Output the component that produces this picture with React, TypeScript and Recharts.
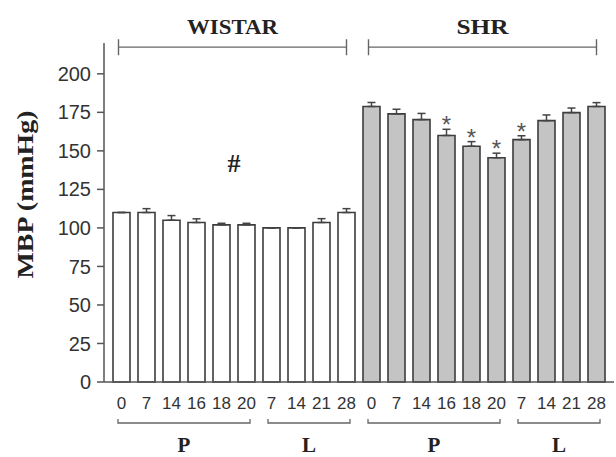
import React from "react";
import { ComposedChart, Bar, XAxis, YAxis, ErrorBar, Cell, LabelList, ReferenceLine } from "recharts";

// one category per bar, Wistar first then SHR
const categories = [
  "W-P0", "W-P7", "W-P14", "W-P16", "W-P18", "W-P20", "W-L7", "W-L14", "W-L21", "W-L28",
  "S-P0", "S-P7", "S-P14", "S-P16", "S-P18", "S-P20", "S-L7", "S-L14", "S-L21", "S-L28",
];
const dayLabels = [
  "0", "7", "14", "16", "18", "20", "7", "14", "21", "28",
  "0", "7", "14", "16", "18", "20", "7", "14", "21", "28",
];

const wistarMbp = [110, 110, 105, 103.5, 102, 102, 100, 100, 103.5, 110];
const wistarSem = [0, 2.5, 3, 2.4, 1, 1, 0, 0, 2.5, 2.5];
const shrMbp = [178.8, 174, 170.3, 160, 153, 145.5, 157.3, 169.6, 174.8, 178.8];
const shrSem = [2.6, 3, 4, 4, 3, 3, 2.5, 3.7, 3, 2.5];
const shrSignificant = [false, false, false, true, true, true, true, false, false, false];

const phaseLabels = ["P", "L", "P", "L"];
const phaseFirst = [0, 6, 10, 16];
const phaseLast = [5, 9, 15, 19];

const strainLabels = ["WISTAR", "SHR"];
const strainFirst = [0, 10];
const strainLast = [9, 19];
const strainTextWidth = [91, 52];

const yTicks = [0, 25, 50, 75, 100, 125, 150, 175, 200];

const data = categories.map((cat, i) => {
  const shr = i >= 10;
  const j = i % 10;
  return {
    cat,
    mbp: shr ? shrMbp[j] : wistarMbp[j],
    sem: shr ? shrSem[j] : wistarSem[j],
    sig: shr ? shrSignificant[j] : false,
    shr,
  };
});

const sans = "'Liberation Sans', Arial, sans-serif";
const serif = "'Liberation Serif', 'Times New Roman', serif";

function DayTick(props: any) {
  const { x, y, payload } = props;
  const index = categories.indexOf(payload.value);
  const band = payload.offset ? payload.offset * 2 : 25;
  const g = phaseFirst.indexOf(index);
  let bracket = null;
  if (g >= 0) {
    const x1 = x - 3.5;
    const x2 = x + (phaseLast[g] - phaseFirst[g]) * band + 3.5;
    const by = y + 41;
    bracket = (
      <g>
        <path d={`M${x1},${by - 4}V${by}H${x2}V${by - 4}`} fill="none" stroke="#666" strokeWidth={1.3} />
        <text x={(x1 + x2) / 2} y={y + 70} textAnchor="middle" fontSize={21} fontWeight="bold" fontFamily={serif} fill="#222">
          {phaseLabels[g]}
        </text>
      </g>
    );
  }
  return (
    <g>
      <text x={x} y={y + 27} textAnchor="middle" fontSize={17} fill="#333" fontFamily={sans}>
        {dayLabels[index]}
      </text>
      {bracket}
    </g>
  );
}

function Asterisk(props: any) {
  const { x, y, width, height, index } = props;
  const row = data[index];
  if (!row || !row.sig) return null;
  const ppu = height / row.mbp;
  const errTop = y - row.sem * ppu;
  return (
    <text x={x + width / 2} y={errTop + 4} textAnchor="middle" fontSize={24} fill="#555" fontFamily={sans}>
      *
    </text>
  );
}

function AxisTitle(props: any) {
  const vb = props.viewBox || { x: 0, y: 43, width: 104, height: 339 };
  const cx = vb.x + 25;
  const cy = vb.y + vb.height / 2 - 18;
  return (
    <text
      x={cx}
      y={cy}
      transform={`rotate(-90 ${cx} ${cy})`}
      textAnchor="middle"
      dominantBaseline="central"
      fontSize={23}
      fontWeight="bold"
      fontFamily={serif}
      fill="#222"
      textLength={168}
      lengthAdjust="spacingAndGlyphs"
    >
      MBP (mmHg)
    </text>
  );
}

const strainBracket = (k: number) => (p: any) => {
  const { x1, y1, x2 } = p;
  const a = x1 - 3;
  const b = x2;
  return (
    <g>
      <path d={`M${a},${y1 - 8}V${y1 + 8}M${a},${y1}H${b}M${b},${y1 - 8}V${y1 + 8}`} fill="none" stroke="#666" strokeWidth={1.4} />
      <text
        x={(a + b) / 2}
        y={y1 - 13}
        textAnchor="middle"
        fontSize={21}
        fontWeight="bold"
        fontFamily={serif}
        fill="#222"
        textLength={strainTextWidth[k]}
        lengthAdjust="spacingAndGlyphs"
      >
        {strainLabels[k]}
      </text>
    </g>
  );
};

const hashMark = (p: any) => (
  <text x={(p.x1 + p.x2) / 2} y={p.y1 + 9} textAnchor="middle" fontSize={26} fontWeight="bold" fontFamily={serif} fill="#222">
    #
  </text>
);

export default function App() {
  return (
    <div style={{ position: "absolute", left: 0, top: 0, background: "#fff" }}>
      <ComposedChart width={616} height={457} data={data} margin={{ top: 43, right: 2, bottom: 0, left: 0 }}>
        <XAxis
          dataKey="cat"
          interval={0}
          height={75}
          padding={{ left: 5, right: 5 }}
          tickLine={false}
          tickSize={0}
          tickMargin={0}
          tick={<DayTick />}
          axisLine={{ stroke: "#555", strokeWidth: 1.5 }}
        />
        <YAxis
          width={104}
          domain={[0, 220]}
          ticks={yTicks}
          tickSize={7}
          tickMargin={6}
          axisLine={{ stroke: "#555", strokeWidth: 1.5 }}
          tickLine={{ stroke: "#555", strokeWidth: 1.5 }}
          tick={{ fontSize: 20, fill: "#333", fontFamily: sans }}
          label={<AxisTitle />}
        />
        <Bar dataKey="mbp" barSize={17} stroke="#3c3c3c" strokeWidth={1.6} isAnimationActive={false}>
          {data.map((d) => (
            <Cell key={d.cat} fill={d.shr ? "#c4c4c4" : "#ffffff"} />
          ))}
          <ErrorBar dataKey={(d: any) => [0, d.sem]} width={4} stroke="#444" strokeWidth={1.5} direction="y" />
          <LabelList dataKey="sem" content={<Asterisk />} />
        </Bar>
        {strainLabels.map((s, k) => (
          <ReferenceLine
            key={s}
            segment={[
              { x: categories[strainFirst[k]], y: 217.3 },
              { x: categories[strainLast[k]], y: 217.3 },
            ]}
            ifOverflow="visible"
            stroke="#666"
            shape={strainBracket(k)}
          />
        ))}
        <ReferenceLine
          segment={[
            { x: categories[4], y: 142 },
            { x: categories[5], y: 142 },
          ]}
          ifOverflow="visible"
          stroke="none"
          shape={hashMark}
        />
      </ComposedChart>
    </div>
  );
}
